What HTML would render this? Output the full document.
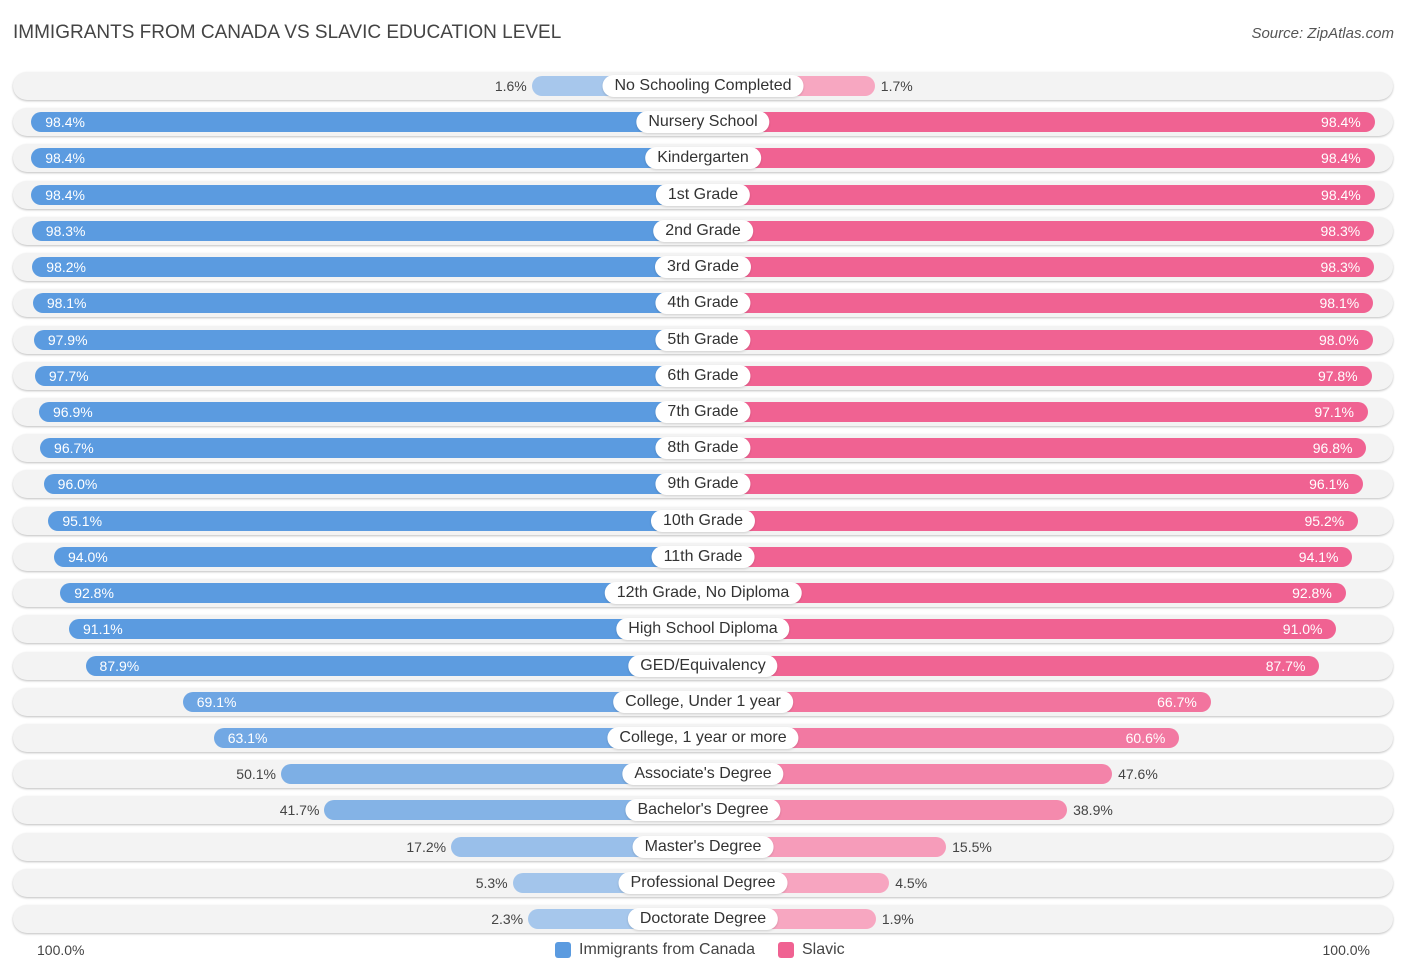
<!DOCTYPE html>
<html><head><meta charset="utf-8"><style>
body{margin:0;width:1406px;height:975px;background:#fff;font-family:"Liberation Sans",sans-serif;position:relative;overflow:hidden}
.t{position:absolute;left:13px;top:22px;font-size:19px;color:#444}
.s{position:absolute;right:12px;top:25px;font-size:15px;color:#555;font-style:italic}
.row{position:absolute;left:13px;width:1380px;height:28px;border-radius:14px;background:#f3f3f3;box-shadow:0 1px 2px rgba(0,0,0,.25)}
.bar{position:absolute;height:20px;border-radius:10px}
.lbl{position:absolute;height:22px;line-height:22px;padding:0 12px;background:#fff;border-radius:11px;font-size:16px;color:#333;transform:translateX(-50%);white-space:nowrap;box-shadow:0 1px 2px rgba(0,0,0,.15)}
.v{position:absolute;font-size:14px;line-height:20px}
.ax{position:absolute;top:942px;font-size:14px;color:#444}
.leg{position:absolute;top:941px;font-size:16px;color:#444;display:flex;align-items:center}
.sw{width:16px;height:16px;border-radius:3px;margin-right:8px}
</style></head><body>
<div class="t">IMMIGRANTS FROM CANADA VS SLAVIC EDUCATION LEVEL</div>
<div class="s">Source: ZipAtlas.com</div>
<div id="chart"></div>
<div class="ax" style="left:37px">100.0%</div>
<div class="ax" style="right:36px">100.0%</div>
<div class="leg" style="left:555px"><div class="sw" style="background:#5b9be0"></div>Immigrants from Canada</div>
<div class="leg" style="left:778px"><div class="sw" style="background:#f06292"></div>Slavic</div>
<script>
const categories=["No Schooling Completed","Nursery School","Kindergarten","1st Grade","2nd Grade","3rd Grade","4th Grade","5th Grade","6th Grade","7th Grade","8th Grade","9th Grade","10th Grade","11th Grade","12th Grade, No Diploma","High School Diploma","GED/Equivalency","College, Under 1 year","College, 1 year or more","Associate's Degree","Bachelor's Degree","Master's Degree","Professional Degree","Doctorate Degree"];
const canada=[1.6,98.4,98.4,98.4,98.3,98.2,98.1,97.9,97.7,96.9,96.7,96.0,95.1,94.0,92.8,91.1,87.9,69.1,63.1,50.1,41.7,17.2,5.3,2.3];
const slavic=[1.7,98.4,98.4,98.4,98.3,98.3,98.1,98.0,97.8,97.1,96.8,96.1,95.2,94.1,92.8,91.0,87.7,66.7,60.6,47.6,38.9,15.5,4.5,1.9];
const cx=703,y0=86,step=36.22;
function len(v){return 163+5.17*v;}
function mix(a,b,t){return 'rgb('+a.map((x,i)=>Math.round(x+(b[i]-x)*t)).join(',')+')';}
const blueL=[168,200,236],blueD=[91,155,224],pinkL=[247,168,194],pinkD=[240,98,146];
const c=document.getElementById('chart');
categories.forEach((name,i)=>{
  const y=y0+i*step;
  const r=document.createElement('div');r.className='row';r.style.top=(y-14)+'px';
  
  
  c.appendChild(r);
  [[canada[i],-1,blueL,blueD,'canada'],[slavic[i],1,pinkL,pinkD,'slavic']].forEach(([v,d,L,D,k])=>{
    const w=len(v);const b=document.createElement('div');b.className='bar';
    b.style.top=(y-10)+'px';b.style.width=w+'px';b.style.left=(d<0?cx-w:cx)+'px';
    b.style.background=mix(L,D,Math.min(1,v/90));
    
    
    c.appendChild(b);
    const t=document.createElement('div');t.className='v';t.style.top=(y-10)+'px';
    t.textContent=v.toFixed(1)+'%';
    const inside=v>55;
    t.style.color=inside?'#fff':'#444';
    if(d<0){ if(inside)t.style.left=(cx-w+14)+'px'; else t.style.right=(1406-(cx-w)+5)+'px'; }
    else { if(inside)t.style.right=(1406-(cx+w)+14)+'px'; else t.style.left=(cx+w+6)+'px'; }
    
    
    c.appendChild(t);
  });
  const l=document.createElement('div');l.className='lbl';l.style.left=cx+'px';l.style.top=(y-11)+'px';l.textContent=name;
  
  
  c.appendChild(l);
});
</script>
</body></html>
